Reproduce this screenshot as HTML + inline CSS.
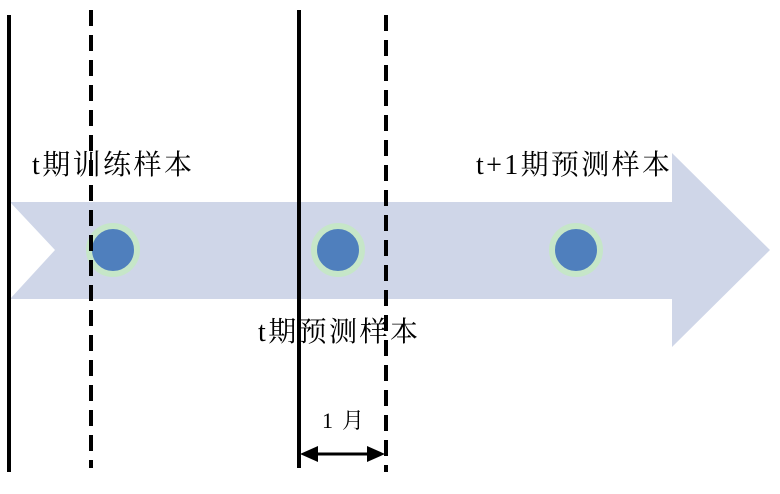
<!DOCTYPE html>
<html><head><meta charset="utf-8"><style>
body{margin:0;background:#fff;width:780px;height:489px;overflow:hidden}
text{font-family:"Liberation Serif","Noto Serif CJK SC",serif;fill:#000}
</style></head><body>
<svg width="780" height="489" viewBox="0 0 780 489" xmlns="http://www.w3.org/2000/svg">
<polygon points="10,202 672,202 672,153 770,250 672,347 672,299 10,299 55,250" fill="#cfd6e8"/>
<g fill="#4f7fbd" stroke="#c6e6c8" stroke-width="6">
<circle cx="113" cy="250" r="24"/>
<circle cx="338" cy="250" r="24"/>
<circle cx="576" cy="250" r="24"/>
</g>
<g stroke="#000" stroke-width="4">
<line x1="9" y1="15" x2="9" y2="472"/>
<line x1="299" y1="10" x2="299" y2="468"/>
<line x1="91" y1="10" x2="91" y2="468" stroke-dasharray="16,9"/>
<line x1="386" y1="15" x2="386" y2="472" stroke-dasharray="16,9"/>
<line x1="312" y1="454" x2="373" y2="454" stroke-width="3"/>
</g>
<polygon points="300,454 318,446 318,462" fill="#000"/>
<polygon points="385,454 367,446 367,462" fill="#000"/>
<text x="32" y="174" font-size="28" textLength="160" lengthAdjust="spacing">t期训练样本</text>
<text x="476" y="174" font-size="28" textLength="194" lengthAdjust="spacing">t+1期预测样本</text>
<text x="258" y="341" font-size="28" textLength="160" lengthAdjust="spacing">t期预测样本</text>
<text x="322" y="428" font-size="22" textLength="42" lengthAdjust="spacing">1 月</text>
</svg>
</body></html>
